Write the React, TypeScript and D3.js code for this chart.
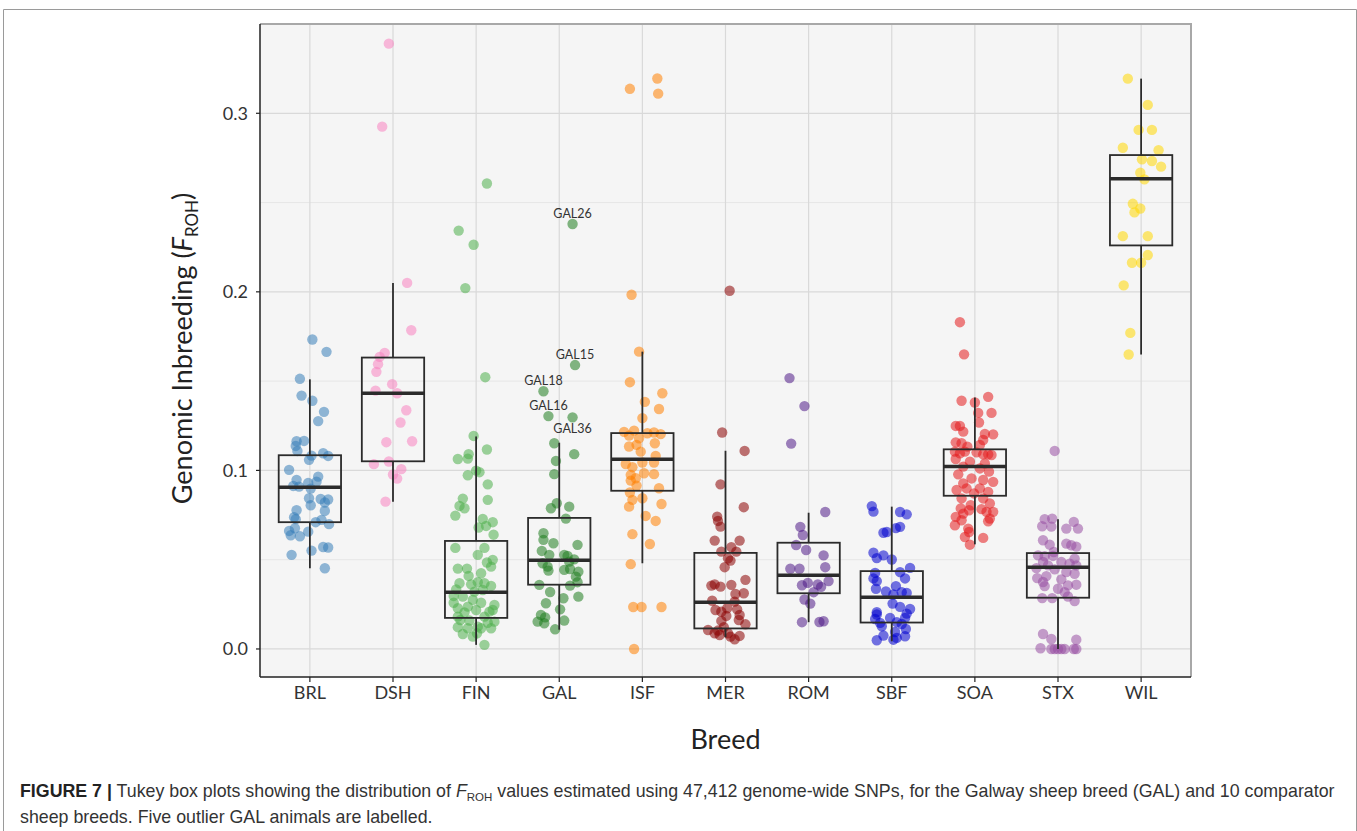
import * as d3 from 'd3';
import React from 'react';

// breeds on the x axis
const breeds = ['BRL', 'DSH', 'FIN', 'GAL', 'ISF', 'MER', 'ROM', 'SBF', 'SOA', 'STX', 'WIL'];
const colors = ['#377EB8', '#F781BF', '#4DAF4A', '#1E7B1E', '#FF7F00', '#8B0000', '#4F1A86', '#0000CD', '#E41A1C', '#984EA3', '#FFD700'];

// Tukey box stats
const q1s = [0.0710, 0.1051, 0.0174, 0.0360, 0.0886, 0.0115, 0.0312, 0.0148, 0.0858, 0.0287, 0.2260];
const medians = [0.0906, 0.1432, 0.0317, 0.0497, 0.1063, 0.0261, 0.0413, 0.0290, 0.1022, 0.0457, 0.2634];
const q3s = [0.1085, 0.1632, 0.0605, 0.0734, 0.1209, 0.0538, 0.0595, 0.0436, 0.1118, 0.0537, 0.2766];
const whiskerLows = [0.0452, 0.0825, 0.0023, 0.0108, 0.0480, 0.0066, 0.0150, 0.0043, 0.0586, 0.0, 0.1649];
const whiskerHighs = [0.151, 0.205, 0.119, 0.1155, 0.1665, 0.111, 0.0763, 0.0797, 0.1408, 0.0727, 0.3194];

// points: [F_ROH, jitter (fraction of category step)]
const brl = [[0.1733, 0.03], [0.1664, 0.2], [0.1513, -0.12], [0.1419, -0.1], [0.139, 0.03], [0.1328, 0.17], [0.1276, 0.1], [0.1163, -0.16], [0.1165, -0.07], [0.1137, -0.17], [0.1109, -0.15], [0.1096, 0.16], [0.1081, 0.22], [0.1059, -0.01], [0.1083, 0.02], [0.1003, -0.25], [0.0947, -0.16], [0.0913, -0.2], [0.0909, -0.13], [0.093, -0.02], [0.0898, 0.01], [0.0937, 0.08], [0.0965, 0.1], [0.0844, -0.01], [0.0805, 0.01], [0.084, 0.13], [0.0837, 0.22], [0.082, 0.18], [0.0773, 0.18], [0.0777, -0.16], [0.0738, -0.19], [0.0727, -0.17], [0.071, 0.07], [0.0723, 0.14], [0.0699, 0.23], [0.0661, -0.25], [0.0637, -0.23], [0.0676, -0.18], [0.0631, -0.12], [0.0657, -0.02], [0.0571, 0.16], [0.0568, 0.22], [0.0551, 0.02], [0.0527, -0.22], [0.0452, 0.18]];
const dsh = [[0.339, -0.05], [0.2925, -0.13], [0.205, 0.17], [0.1785, 0.22], [0.1658, -0.1], [0.1636, -0.16], [0.1595, -0.18], [0.1552, -0.2], [0.1483, -0.01], [0.1447, -0.21], [0.1432, 0.05], [0.1337, 0.16], [0.1268, 0.09], [0.1158, -0.08], [0.1163, 0.23], [0.1035, -0.23], [0.105, -0.05], [0.1007, 0.1], [0.0977, 0.0], [0.0954, 0.05], [0.0825, -0.09]];
const fin = [[0.2607, 0.13], [0.2343, -0.21], [0.2264, -0.03], [0.2021, -0.13], [0.1522, 0.11], [0.1193, -0.03], [0.1117, 0.13], [0.1064, -0.22], [0.1091, -0.09], [0.1066, -0.1], [0.0999, 0.0], [0.099, 0.04], [0.0973, -0.1], [0.0922, 0.14], [0.0842, -0.16], [0.0835, 0.14], [0.0801, -0.2], [0.0788, -0.14], [0.0747, -0.25], [0.0728, 0.08], [0.071, 0.2], [0.068, 0.03], [0.0689, 0.12], [0.064, 0.21], [0.0566, -0.25], [0.0566, 0.1], [0.0527, 0.02], [0.0484, 0.13], [0.0499, 0.2], [0.045, -0.22], [0.045, -0.11], [0.0409, -0.09], [0.0424, 0.06], [0.0461, 0.18], [0.0368, -0.2], [0.0362, -0.06], [0.0374, 0.02], [0.0368, 0.1], [0.0353, 0.18], [0.0334, -0.24], [0.033, 0.08], [0.0293, -0.16], [0.0275, -0.04], [0.0259, -0.27], [0.0259, 0.06], [0.0246, 0.22], [0.0228, -0.22], [0.0237, -0.1], [0.0218, 0.0], [0.0209, 0.16], [0.0162, -0.19], [0.0159, -0.08], [0.0147, 0.14], [0.0153, 0.22], [0.0122, -0.22], [0.0116, -0.1], [0.0125, 0.02], [0.0116, 0.18], [0.0084, -0.16], [0.0088, 0.01], [0.0023, 0.1], [0.0069, -0.04], [0.0181, -0.22], [0.0321, -0.02], [0.0205, -0.14], [0.0181, 0.1], [0.0297, -0.27], [0.0218, 0.2], [0.0116, 0.06]];
const gal = [[0.238, 0.16], [0.159, 0.19], [0.1443, -0.19], [0.1304, -0.13], [0.1297, 0.16], [0.1152, -0.06], [0.1091, 0.18], [0.1053, -0.04], [0.0979, -0.06], [0.0816, -0.03], [0.0788, -0.1], [0.0797, 0.12], [0.073, 0.08], [0.0648, -0.19], [0.0611, -0.19], [0.0592, -0.07], [0.0583, 0.22], [0.0549, -0.21], [0.0527, -0.12], [0.0527, 0.06], [0.0521, 0.1], [0.048, -0.2], [0.0461, -0.14], [0.0439, -0.13], [0.0502, 0.18], [0.0489, 0.12], [0.0443, 0.06], [0.0448, 0.13], [0.0433, 0.23], [0.0405, 0.2], [0.0374, 0.22], [0.0359, -0.24], [0.0319, -0.11], [0.0355, 0.13], [0.0293, 0.23], [0.0284, 0.05], [0.0256, -0.16], [0.0222, 0.01], [0.019, -0.22], [0.0177, -0.17], [0.0153, -0.26], [0.0144, -0.18], [0.0159, 0.06], [0.011, -0.05]];
const isf = [[0.3137, -0.15], [0.3195, 0.18], [0.311, 0.19], [0.1984, -0.13], [0.0235, -0.11], [0.0235, -0.01], [0.0235, 0.23], [0.0, -0.1], [0.1665, -0.04], [0.1494, -0.15], [0.1432, 0.24], [0.1384, 0.03], [0.1344, 0.2], [0.1293, 0.0], [0.1216, -0.22], [0.1223, -0.1], [0.1195, -0.16], [0.118, -0.04], [0.1208, 0.06], [0.1212, 0.14], [0.1203, 0.22], [0.1134, -0.16], [0.1143, -0.07], [0.1105, -0.02], [0.1152, 0.15], [0.1081, 0.16], [0.1036, -0.2], [0.1018, -0.12], [0.1044, 0.0], [0.1044, 0.14], [0.0984, 0.02], [0.0979, 0.14], [0.0975, -0.14], [0.0956, -0.08], [0.0943, -0.14], [0.0915, -0.07], [0.09, 0.2], [0.0876, -0.15], [0.0844, 0.0], [0.0835, -0.12], [0.0812, 0.23], [0.0797, -0.16], [0.0745, 0.04], [0.0717, 0.16], [0.0643, -0.12], [0.0588, 0.09], [0.0475, -0.14]];
const mer = [[0.2006, 0.05], [0.1212, -0.04], [0.1109, 0.23], [0.0922, -0.06], [0.0794, 0.22], [0.0741, -0.1], [0.0717, -0.09], [0.0685, -0.06], [0.0607, -0.13], [0.0607, 0.17], [0.057, 0.07], [0.0545, 0.13], [0.0545, -0.05], [0.0508, 0.03], [0.0495, 0.06], [0.0458, -0.01], [0.0387, 0.24], [0.0355, -0.17], [0.0362, -0.13], [0.0349, -0.06], [0.0359, 0.07], [0.0308, 0.12], [0.0312, 0.22], [0.027, -0.16], [0.0218, -0.12], [0.0265, 0.11], [0.0228, 0.02], [0.0222, 0.14], [0.0209, -0.05], [0.019, 0.17], [0.0185, 0.01], [0.0157, -0.05], [0.0162, 0.16], [0.0138, 0.24], [0.0106, -0.21], [0.0103, -0.09], [0.0122, -0.02], [0.0078, -0.07], [0.0069, 0.06], [0.0054, 0.11], [0.0073, 0.17], [0.0088, 0.03], [0.0088, -0.13]];
const rom = [[0.1517, -0.23], [0.136, -0.05], [0.115, -0.21], [0.0767, 0.2], [0.0684, -0.1], [0.0638, -0.07], [0.0582, -0.15], [0.0554, -0.03], [0.0524, 0.18], [0.0458, 0.2], [0.0449, -0.22], [0.0449, -0.11], [0.038, 0.24], [0.037, -0.01], [0.0357, -0.08], [0.0361, 0.11], [0.0348, 0.15], [0.0318, 0.06], [0.0277, -0.05], [0.0254, 0.02], [0.015, -0.08], [0.0151, 0.13], [0.0155, 0.18]];
const sbf = [[0.08, -0.24], [0.0769, -0.22], [0.0767, 0.1], [0.0754, 0.18], [0.0684, 0.1], [0.0677, 0.05], [0.0651, -0.1], [0.0655, -0.06], [0.0539, -0.22], [0.0509, -0.18], [0.0524, -0.1], [0.0501, 0.0], [0.0454, 0.22], [0.0426, -0.2], [0.043, 0.1], [0.0395, -0.22], [0.038, -0.18], [0.0395, 0.16], [0.0337, -0.19], [0.0322, -0.07], [0.0352, 0.05], [0.0318, 0.12], [0.0305, 0.02], [0.0314, 0.18], [0.0254, 0.01], [0.0236, 0.1], [0.0224, 0.22], [0.0206, -0.18], [0.0193, -0.18], [0.0198, 0.18], [0.0168, -0.2], [0.0174, -0.02], [0.0174, 0.16], [0.0146, -0.14], [0.015, 0.06], [0.014, 0.12], [0.0127, -0.12], [0.0112, 0.17], [0.0095, 0.04], [0.0075, -0.1], [0.0071, 0.16], [0.0062, 0.06], [0.0049, -0.18], [0.0052, 0.02]];
const soa = [[0.183, -0.18], [0.165, -0.13], [0.1412, 0.16], [0.139, -0.16], [0.138, 0.0], [0.1322, 0.04], [0.1322, 0.2], [0.1268, 0.05], [0.1249, -0.23], [0.1249, -0.18], [0.1217, -0.14], [0.1204, 0.12], [0.1202, 0.22], [0.117, 0.1], [0.1157, -0.23], [0.1152, -0.16], [0.1142, 0.06], [0.1133, -0.09], [0.1105, -0.24], [0.1096, -0.18], [0.1105, -0.12], [0.1101, 0.02], [0.109, 0.1], [0.109, 0.16], [0.1086, 0.2], [0.1064, -0.23], [0.1049, -0.06], [0.1039, 0.12], [0.1021, -0.14], [0.1011, 0.06], [0.0993, 0.17], [0.0978, -0.2], [0.0955, -0.04], [0.0936, 0.22], [0.0927, -0.14], [0.0946, 0.1], [0.089, -0.22], [0.0899, -0.1], [0.0899, 0.06], [0.088, 0.16], [0.0871, -0.01], [0.0843, -0.16], [0.0843, 0.1], [0.0805, -0.05], [0.0815, 0.18], [0.0787, -0.17], [0.0783, 0.08], [0.0777, -0.07], [0.0768, 0.22], [0.0758, -0.14], [0.0768, 0.14], [0.074, -0.23], [0.073, 0.18], [0.0721, -0.16], [0.0693, -0.24], [0.0715, 0.16], [0.0674, -0.08], [0.0655, -0.07], [0.0627, -0.12], [0.0622, 0.1], [0.0584, -0.06]];
const stx = [[0.1109, -0.04], [0.0727, -0.16], [0.073, -0.07], [0.0712, 0.19], [0.0687, -0.19], [0.0685, -0.08], [0.0674, 0.1], [0.0674, 0.24], [0.0609, -0.18], [0.0584, -0.1], [0.059, 0.1], [0.0581, 0.16], [0.0573, 0.22], [0.0524, -0.24], [0.0519, -0.16], [0.0521, -0.06], [0.0543, -0.05], [0.0506, 0.2], [0.0487, -0.18], [0.0468, -0.12], [0.0487, 0.04], [0.0478, 0.14], [0.0468, 0.22], [0.0453, -0.26], [0.0446, -0.04], [0.0431, 0.1], [0.0421, 0.2], [0.0397, -0.25], [0.0408, -0.14], [0.039, 0.04], [0.0375, -0.18], [0.0352, -0.16], [0.0356, 0.12], [0.036, 0.22], [0.0337, 0.0], [0.0318, 0.08], [0.0285, -0.19], [0.0285, -0.07], [0.0294, 0.12], [0.0268, 0.2], [0.0084, -0.18], [0.0056, -0.08], [0.0052, 0.22], [0.0004, -0.21], [0.0, -0.08], [0.0, -0.04], [0.0, 0.0], [0.0, 0.04], [0.0, 0.08], [0.0, 0.19], [0.0, 0.22]];
const wil = [[0.3194, -0.16], [0.3047, 0.08], [0.2907, -0.03], [0.2907, 0.13], [0.2807, -0.22], [0.2793, 0.21], [0.2742, 0.01], [0.2733, 0.13], [0.2701, 0.24], [0.2667, -0.01], [0.263, 0.04], [0.2493, -0.1], [0.2467, -0.01], [0.2445, -0.08], [0.2312, -0.22], [0.2312, 0.08], [0.2206, 0.08], [0.2163, -0.11], [0.2163, 0.0], [0.2036, -0.21], [0.177, -0.13], [0.1649, -0.15]];
const points = [brl, dsh, fin, gal, isf, mer, rom, sbf, soa, stx, wil];

// labelled GAL outliers: [name, F_ROH, jitter, label above(-1)/below(+1)]
const galLabels = [['GAL26', 0.238, 0.16, -1], ['GAL15', 0.159, 0.19, -1], ['GAL18', 0.1443, -0.19, -1], ['GAL16', 0.1304, -0.13, -1], ['GAL36', 0.1297, 0.16, 1]];

const yTicks = [0, 0.1, 0.2, 0.3];
const yMinor = [0.05, 0.15, 0.25];

const W = 1357, H = 831;
const P = { left: 260, right: 1191, top: 24, bottom: 677 };
const font = 'Lato, "Open Sans", sans-serif';

export default function App() {
  const x = d3.scalePoint().domain(breeds).range([P.left, P.right]).padding(0.6);
  const y = d3.scaleLinear().domain([-0.0157, 0.35]).range([P.bottom, P.top]);
  const step = x.step();
  const bw = step * 0.75;

  return (
    <svg width={W} height={H} style={{ position: 'absolute', left: 0, top: 0, background: '#fff' }}>
      {/* outer frame */}
      <path d={`M3.5,${H} V9.5 H${W - 0.5} V${H}`} fill="none" stroke="#9a9a9a" strokeWidth={1} />

      <rect x={P.left} y={P.top} width={P.right - P.left} height={P.bottom - P.top} fill="#f5f5f5" />
      {yMinor.map(t => (
        <line key={'m' + t} x1={P.left} x2={P.right} y1={y(t)} y2={y(t)} stroke="#e6e6e6" strokeWidth={1} />
      ))}
      {yTicks.map(t => (
        <line key={'g' + t} x1={P.left} x2={P.right} y1={y(t)} y2={y(t)} stroke="#d9d9d9" strokeWidth={1.2} />
      ))}
      {breeds.map(b => (
        <line key={'v' + b} x1={x(b)} x2={x(b)} y1={P.top} y2={P.bottom} stroke="#d9d9d9" strokeWidth={1.2} />
      ))}
      <path d={`M${P.left},${P.top} H${P.right} V${P.bottom}`} fill="none" stroke="#a8a8a8" strokeWidth={2} />

      {/* jittered points */}
      {points.map((pts, i) => (
        <g key={'p' + i} fill={colors[i]} fillOpacity={0.55}>
          {pts.map((d, j) => (
            <circle key={j} cx={x(breeds[i])! + d[1] * step} cy={y(d[0])} r={5.2} />
          ))}
        </g>
      ))}

      {/* boxes */}
      {breeds.map((b, i) => {
        const cx = x(b)!;
        return (
          <g key={'b' + b} stroke="#2b2b2b" fill="none">
            <line x1={cx} x2={cx} y1={y(q3s[i])} y2={y(whiskerHighs[i])} strokeWidth={1.8} />
            <line x1={cx} x2={cx} y1={y(q1s[i])} y2={y(whiskerLows[i])} strokeWidth={1.8} />
            <rect x={cx - bw / 2} y={y(q3s[i])} width={bw} height={y(q1s[i]) - y(q3s[i])} strokeWidth={1.8} />
            <line x1={cx - bw / 2} x2={cx + bw / 2} y1={y(medians[i])} y2={y(medians[i])} strokeWidth={3.5} />
          </g>
        );
      })}

      {/* outlier labels */}
      {galLabels.map(l => (
        <text key={l[0] as string} x={x('GAL')! + (l[2] as number) * step} y={y(l[1] as number) + ((l[3] as number) < 0 ? -6 : 16)}
          textAnchor="middle" fontFamily={font} fontSize={12.5} fill="#333">{l[0]}</text>
      ))}

      {/* axes */}
      <line x1={P.left} x2={P.left} y1={P.top} y2={P.bottom} stroke="#222" strokeWidth={1.5} />
      <line x1={P.left} x2={P.right} y1={P.bottom} y2={P.bottom} stroke="#222" strokeWidth={1.5} />
      {yTicks.map(t => (
        <g key={'yt' + t}>
          <line x1={P.left - 4} x2={P.left} y1={y(t)} y2={y(t)} stroke="#222" strokeWidth={1.2} />
          <text x={P.left - 12} y={y(t)} dy="0.35em" textAnchor="end" fontFamily={font} fontSize={18} fill="#333">{d3.format('.1f')(t)}</text>
        </g>
      ))}
      {breeds.map(b => (
        <g key={'xt' + b}>
          <line x1={x(b)} x2={x(b)} y1={P.bottom} y2={P.bottom + 5} stroke="#222" strokeWidth={1.2} />
          <text x={x(b)} y={P.bottom + 22} textAnchor="middle" fontFamily={font} fontSize={18} fill="#333">{b}</text>
        </g>
      ))}

      <text x={(P.left + P.right) / 2} y={749} textAnchor="middle" fontFamily={font} fontSize={27} fill="#222">Breed</text>
      <text transform={`translate(192,${(P.top + P.bottom) / 2 - 2}) rotate(-90)`} textAnchor="middle" fontFamily={font} fontSize={27} fill="#222">
        Genomic Inbreeding (<tspan fontStyle="italic">F</tspan><tspan fontSize={17} dy={6}>ROH</tspan><tspan dy={-6}>)</tspan>
      </text>

      {/* caption */}
      <g fontFamily='"Liberation Sans Narrow", "Liberation Sans", sans-serif' fontSize={17.8} fill="#333">
        <text x={20} y={797}>
          <tspan fontWeight="bold" fill="#222">FIGURE 7 |</tspan> Tukey box plots showing the distribution of <tspan fontStyle="italic">F</tspan><tspan fontSize={11.5} dy={4}>ROH</tspan><tspan dy={-4}> values estimated using 47,412 genome-wide SNPs, for the Galway sheep breed (GAL) and 10 comparator</tspan>
        </text>
        <text x={20} y={823}>sheep breeds. Five outlier GAL animals are labelled.</text>
      </g>
    </svg>
  );
}
